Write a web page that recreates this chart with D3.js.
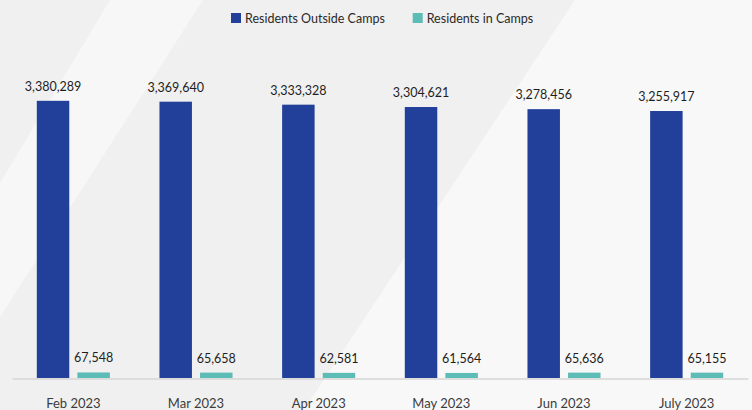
<!DOCTYPE html>
<html>
<head>
<meta charset="utf-8">
<script src="https://cdn.jsdelivr.net/npm/d3@7"></script>
<style>
  html, body { margin: 0; padding: 0; background: #f0f0f0; }
  svg { display: block; }
  text { font-family: Lato, "Open Sans", sans-serif; }
</style>
</head>
<body>
<svg id="chart" width="752" height="410"></svg>
<script>
const categories = ["Feb 2023", "Mar 2023", "Apr 2023", "May 2023", "Jun 2023", "July 2023"];
const seriesNames = ["Residents Outside Camps", "Residents in Camps"];
const outsideCamps = [3380289, 3369640, 3333328, 3304621, 3278456, 3255917];
const inCamps = [67548, 65658, 62581, 61564, 65636, 65155];
const seriesColors = ["#22409a", "#5dbcb5"];

const W = 752, H = 410;
const svg = d3.select("#chart");

// background decorative shapes
svg.append("rect").attr("width", W).attr("height", H).attr("fill", "#f0f0f0");
svg.append("polygon").attr("points", "110,0 203,0 0,317 0,183").attr("fill", "#f7f7f7");
svg.append("polygon").attr("points", "575,0 752,0 752,410 304,410").attr("fill", "#f8f8f8");

const data = categories.map((c, i) => ({ cat: c, vals: [outsideCamps[i], inCamps[i]] }));

const x0 = d3.scaleBand().domain(categories).range([12, 748]).padding(0);
const x1 = d3.scaleBand().domain(seriesNames)
  .range([24.8, x0.bandwidth() - 24.8]).paddingInner(0.2).paddingOuter(0);
const y = d3.scaleLinear().domain([0, 4000000]).range([378, 50]);
const fmt = d3.format(",");

const groups = svg.append("g").selectAll("g").data(data).join("g")
  .attr("transform", d => `translate(${x0(d.cat)},0)`);

groups.selectAll("rect").data(d => d.vals.map((v, k) => ({ v, k })))
  .join("rect")
  .attr("x", d => x1(seriesNames[d.k]))
  .attr("y", d => y(d.v))
  .attr("width", x1.bandwidth())
  .attr("height", d => y(0) - y(d.v))
  .attr("fill", d => seriesColors[d.k]);

groups.selectAll("text.val").data(d => d.vals.map((v, k) => ({ v, k })))
  .join("text").attr("class", "val")
  .attr("x", d => x1(seriesNames[d.k]) + x1.bandwidth() / 2)
  .attr("y", d => y(d.v) - 10)
  .attr("text-anchor", "middle")
  .attr("font-size", "12.5px")
  .attr("fill", "#1e1e1e")
  .text(d => fmt(d.v));

// x axis
const xAxis = svg.append("g").attr("transform", "translate(0,378.5)")
  .call(d3.axisBottom(x0).tickSize(0).tickPadding(20));
xAxis.select(".domain").attr("stroke", "#d6d6d6").attr("stroke-width", 1.5);
xAxis.selectAll("text").attr("font-size", "13px").attr("fill", "#3c3c3c")
  .attr("font-family", "Lato, 'Open Sans', sans-serif");

// legend
const legendX = [231, 412.7];
const legend = svg.append("g").selectAll("g").data(seriesNames).join("g")
  .attr("transform", (d, i) => `translate(${legendX[i]},13)`);
legend.append("rect").attr("width", 10).attr("height", 10)
  .attr("fill", (d, i) => seriesColors[i]);
legend.append("text").attr("x", 14).attr("y", 9.5)
  .attr("font-size", "12.5px").attr("fill", "#2a2a2a").text(d => d);
</script>
</body>
</html>
